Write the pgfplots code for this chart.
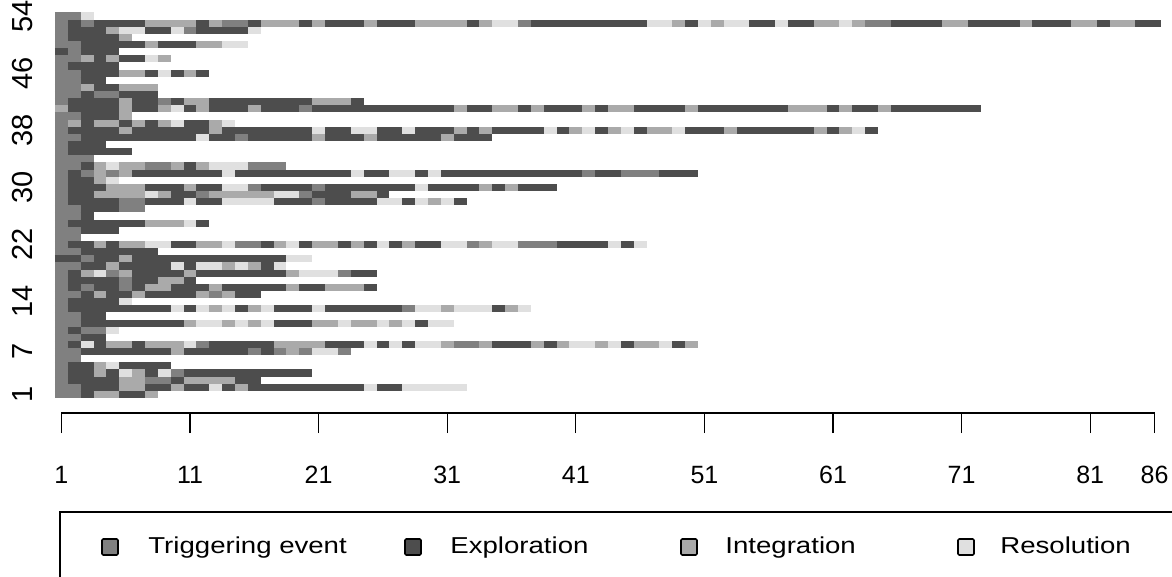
\documentclass[border=0pt]{standalone}
\usepackage{fontspec}
\setmainfont{Liberation Sans}
\usepackage{graphicx}
\usepackage{pgfplots}
\usepackage{pgfplotstable}
\pgfplotsset{compat=1.18}
\definecolor{cT}{RGB}{128,128,128}
\definecolor{cE}{RGB}{77,77,77}
\definecolor{cI}{RGB}{170,170,170}
\definecolor{cR}{RGB}{224,224,224}
% r = sequence (row), s = first position, n = run length, c = state (0 Triggering, 1 Exploration, 2 Integration, 3 Resolution)
\pgfplotstableread[row sep=\\]{
r s n c\\
54 1 2 0\\ 54 3 1 3\\
53 1 1 0\\ 53 2 1 1\\ 53 3 1 0\\ 53 4 4 1\\ 53 8 4 2\\ 53 12 1 1\\ 53 13 1 2\\ 53 14 2 0\\ 53 16 1 1\\ 53 17 3 2\\ 53 20 1 1\\ 53 21 1 2\\ 53 22 3 1\\ 53 25 1 2\\ 53 26 3 1\\ 53 29 4 2\\ 53 33 1 1\\ 53 34 1 2\\ 53 35 2 3\\ 53 37 1 0\\ 53 38 9 1\\ 53 47 2 3\\ 53 49 1 2\\ 53 50 1 1\\ 53 51 1 3\\ 53 52 1 2\\ 53 53 2 3\\ 53 55 2 1\\ 53 57 1 3\\ 53 58 2 1\\ 53 60 2 2\\ 53 62 1 3\\ 53 63 1 2\\ 53 64 2 0\\ 53 66 4 1\\ 53 70 2 2\\ 53 72 4 1\\ 53 76 1 2\\ 53 77 3 1\\ 53 80 2 2\\ 53 82 1 1\\ 53 83 2 2\\ 53 85 2 1\\
52 1 1 0\\ 52 2 3 1\\ 52 5 1 2\\ 52 6 2 3\\ 52 8 2 1\\ 52 10 1 3\\ 52 11 1 0\\ 52 12 4 1\\ 52 16 1 3\\
51 1 1 0\\ 51 2 4 1\\ 51 6 1 2\\
50 1 2 0\\ 50 3 5 1\\ 50 8 1 2\\ 50 9 3 1\\ 50 12 2 2\\ 50 14 2 3\\
49 1 1 1\\ 49 2 1 0\\ 49 3 3 1\\
48 1 2 0\\ 48 3 1 2\\ 48 4 1 1\\ 48 5 1 2\\ 48 6 2 1\\ 48 8 1 3\\ 48 9 1 2\\
47 1 1 0\\ 47 2 4 1\\
46 1 2 0\\ 46 3 3 1\\ 46 6 2 2\\ 46 8 1 1\\ 46 9 1 3\\ 46 10 1 1\\ 46 11 1 2\\ 46 12 1 1\\
45 1 2 0\\ 45 3 2 1\\
44 1 2 0\\ 44 3 1 2\\ 44 4 2 1\\ 44 6 3 2\\
43 1 2 0\\ 43 3 1 1\\ 43 4 2 0\\ 43 6 3 1\\
42 1 1 0\\ 42 2 4 1\\ 42 6 1 2\\ 42 7 2 1\\ 42 9 1 0\\ 42 10 1 1\\ 42 11 2 2\\ 42 13 8 1\\ 42 21 3 2\\ 42 24 1 1\\
41 1 1 2\\ 41 2 4 1\\ 41 6 1 2\\ 41 7 2 1\\ 41 9 1 2\\ 41 10 1 3\\ 41 11 1 1\\ 41 12 1 2\\ 41 13 3 1\\ 41 16 1 2\\ 41 17 3 1\\ 41 20 1 0\\ 41 21 11 1\\ 41 32 1 2\\ 41 33 2 1\\ 41 35 2 2\\ 41 37 1 1\\ 41 38 1 2\\ 41 39 3 1\\ 41 42 1 2\\ 41 43 1 1\\ 41 44 2 2\\ 41 46 4 1\\ 41 50 1 2\\ 41 51 7 1\\ 41 58 3 2\\ 41 61 1 1\\ 41 62 1 2\\ 41 63 2 1\\ 41 65 1 2\\ 41 66 7 1\\
40 1 2 0\\ 40 3 3 1\\ 40 6 1 2\\
39 1 1 0\\ 39 2 1 2\\ 39 3 1 1\\ 39 4 2 2\\ 39 6 1 1\\ 39 7 1 2\\ 39 8 1 1\\ 39 9 1 2\\ 39 10 1 3\\ 39 11 2 1\\ 39 13 1 2\\ 39 14 1 3\\
38 1 1 0\\ 38 2 4 1\\ 38 6 1 2\\ 38 7 6 1\\ 38 13 1 2\\ 38 14 7 1\\ 38 21 1 3\\ 38 22 2 1\\ 38 24 2 3\\ 38 26 2 1\\ 38 28 1 3\\ 38 29 3 1\\ 38 32 1 2\\ 38 33 1 1\\ 38 34 1 2\\ 38 35 4 1\\ 38 39 1 3\\ 38 40 1 1\\ 38 41 1 2\\ 38 42 1 3\\ 38 43 1 1\\ 38 44 1 2\\ 38 45 1 3\\ 38 46 1 1\\ 38 47 2 2\\ 38 49 1 3\\ 38 50 3 1\\ 38 53 1 2\\ 38 54 6 1\\ 38 60 1 2\\ 38 61 1 1\\ 38 62 1 2\\ 38 63 1 3\\ 38 64 1 1\\
37 1 2 0\\ 37 3 9 1\\ 37 12 1 3\\ 37 13 2 1\\ 37 15 1 0\\ 37 16 5 1\\ 37 21 1 2\\ 37 22 3 1\\ 37 25 1 2\\ 37 26 5 1\\ 37 31 1 2\\ 37 32 3 1\\
36 1 1 0\\ 36 2 3 1\\
35 1 1 0\\ 35 2 5 1\\
34 1 3 0\\
33 1 2 0\\ 33 3 1 1\\ 33 4 1 2\\ 33 5 1 3\\ 33 6 2 2\\ 33 8 2 0\\ 33 10 1 2\\ 33 11 1 1\\ 33 12 1 2\\ 33 13 3 3\\ 33 16 3 0\\
32 1 1 0\\ 32 2 1 1\\ 32 3 1 0\\ 32 4 1 2\\ 32 5 1 0\\ 32 6 1 2\\ 32 7 7 1\\ 32 14 1 3\\ 32 15 9 1\\ 32 24 1 3\\ 32 25 2 1\\ 32 27 2 3\\ 32 29 1 1\\ 32 30 1 3\\ 32 31 11 1\\ 32 42 1 0\\ 32 43 2 1\\ 32 45 3 0\\ 32 48 3 1\\
31 1 1 0\\ 31 2 2 1\\ 31 4 1 2\\ 31 5 1 3\\
30 1 1 0\\ 30 2 3 1\\ 30 5 3 2\\ 30 8 3 1\\ 30 11 1 2\\ 30 12 2 1\\ 30 14 2 3\\ 30 16 1 0\\ 30 17 4 1\\ 30 21 1 0\\ 30 22 7 1\\ 30 29 1 3\\ 30 30 4 1\\ 30 34 1 2\\ 30 35 1 1\\ 30 36 1 2\\ 30 37 3 1\\
29 1 1 0\\ 29 2 2 1\\ 29 4 4 2\\ 29 8 1 3\\ 29 9 1 2\\ 29 10 2 1\\ 29 12 1 0\\ 29 13 5 2\\ 29 18 2 3\\ 29 20 1 0\\ 29 21 3 1\\ 29 24 2 2\\ 29 26 1 1\\
28 1 1 0\\ 28 2 4 1\\ 28 6 2 0\\ 28 8 3 1\\ 28 11 1 3\\ 28 12 2 1\\ 28 14 4 3\\ 28 18 3 1\\ 28 21 1 0\\ 28 22 4 1\\ 28 26 2 3\\ 28 28 1 1\\ 28 29 1 3\\ 28 30 1 2\\ 28 31 1 3\\ 28 32 1 1\\
27 1 2 0\\ 27 3 3 1\\ 27 6 2 0\\
26 1 2 0\\ 26 3 1 1\\
25 1 1 0\\ 25 2 6 1\\ 25 8 3 2\\ 25 11 1 3\\ 25 12 1 1\\
24 1 2 0\\ 24 3 3 1\\
23 1 2 0\\
22 1 1 0\\ 22 2 2 1\\ 22 4 1 2\\ 22 5 1 1\\ 22 6 2 2\\ 22 8 2 3\\ 22 10 2 1\\ 22 12 2 2\\ 22 14 1 3\\ 22 15 2 0\\ 22 17 1 1\\ 22 18 1 2\\ 22 19 1 3\\ 22 20 1 1\\ 22 21 2 2\\ 22 23 1 1\\ 22 24 1 2\\ 22 25 1 1\\ 22 26 1 3\\ 22 27 1 1\\ 22 28 1 2\\ 22 29 2 1\\ 22 31 2 3\\ 22 33 1 0\\ 22 34 1 2\\ 22 35 2 3\\ 22 37 3 0\\ 22 40 4 1\\ 22 44 1 3\\ 22 45 1 1\\ 22 46 1 3\\
21 1 2 0\\ 21 3 6 1\\
20 1 2 1\\ 20 3 1 0\\ 20 4 2 1\\ 20 6 1 2\\ 20 7 12 1\\ 20 19 2 3\\
19 1 2 0\\ 19 3 2 1\\ 19 5 1 2\\ 19 6 4 1\\ 19 10 1 3\\ 19 11 1 1\\ 19 12 2 3\\ 19 14 1 2\\ 19 15 1 3\\ 19 16 1 2\\ 19 17 1 1\\ 19 18 1 3\\
18 1 1 0\\ 18 2 1 1\\ 18 3 1 2\\ 18 4 1 3\\ 18 5 1 0\\ 18 6 1 2\\ 18 7 4 1\\ 18 11 1 2\\ 18 12 7 1\\ 18 19 1 2\\ 18 20 3 3\\ 18 23 1 0\\ 18 24 2 1\\
17 1 1 0\\ 17 2 4 1\\ 17 6 1 0\\ 17 7 2 1\\ 17 9 2 2\\ 17 11 1 1\\
16 1 1 0\\ 16 2 1 1\\ 16 3 1 0\\ 16 4 2 1\\ 16 6 1 0\\ 16 7 1 1\\ 16 8 2 2\\ 16 10 3 1\\ 16 13 1 2\\ 16 14 5 1\\ 16 19 1 2\\ 16 20 2 1\\ 16 22 3 2\\ 16 25 1 1\\
15 1 2 0\\ 15 3 1 1\\ 15 4 1 2\\ 15 5 2 1\\ 15 7 1 2\\ 15 8 4 1\\ 15 12 1 2\\ 15 13 1 0\\ 15 14 1 2\\ 15 15 2 1\\
14 1 1 0\\ 14 2 4 1\\ 14 6 1 3\\
13 1 1 0\\ 13 2 8 1\\ 13 10 1 3\\ 13 11 1 1\\ 13 12 1 3\\ 13 13 1 2\\ 13 14 1 3\\ 13 15 1 1\\ 13 16 1 2\\ 13 17 1 3\\ 13 18 3 1\\ 13 21 1 3\\ 13 22 6 1\\ 13 28 1 0\\ 13 29 2 3\\ 13 31 1 2\\ 13 32 3 3\\ 13 35 1 1\\ 13 36 1 2\\ 13 37 1 3\\
12 1 2 0\\ 12 3 2 1\\
11 1 2 0\\ 11 3 8 1\\ 11 11 1 2\\ 11 12 2 3\\ 11 14 1 2\\ 11 15 1 3\\ 11 16 1 2\\ 11 17 1 3\\ 11 18 3 1\\ 11 21 2 2\\ 11 23 1 3\\ 11 24 2 2\\ 11 26 1 3\\ 11 27 1 2\\ 11 28 1 3\\ 11 29 1 1\\ 11 30 2 3\\
10 1 1 0\\ 10 2 1 1\\ 10 3 2 0\\ 10 5 1 3\\
9 1 2 0\\ 9 3 2 1\\
8 1 1 0\\ 8 2 1 1\\ 8 3 1 3\\ 8 4 1 1\\ 8 5 2 2\\ 8 7 1 1\\ 8 8 3 2\\ 8 11 1 3\\ 8 12 1 0\\ 8 13 5 1\\ 8 18 4 2\\ 8 22 3 1\\ 8 25 1 3\\ 8 26 1 1\\ 8 27 1 3\\ 8 28 1 1\\ 8 29 2 3\\ 8 31 1 2\\ 8 32 2 0\\ 8 34 1 2\\ 8 35 3 1\\ 8 38 1 2\\ 8 39 1 1\\ 8 40 1 2\\ 8 41 2 3\\ 8 43 1 2\\ 8 44 1 3\\ 8 45 1 1\\ 8 46 2 2\\ 8 48 1 3\\ 8 49 1 1\\ 8 50 1 2\\
7 1 2 0\\ 7 3 7 1\\ 7 10 1 2\\ 7 11 5 1\\ 7 16 1 0\\ 7 17 1 1\\ 7 18 1 0\\ 7 19 1 2\\ 7 20 1 0\\ 7 21 2 3\\ 7 23 1 0\\
6 1 2 0\\
5 1 1 0\\ 5 2 2 1\\ 5 4 1 2\\ 5 5 1 3\\ 5 6 4 1\\
4 1 1 0\\ 4 2 2 1\\ 4 4 1 2\\ 4 5 1 1\\ 4 6 1 3\\ 4 7 1 2\\ 4 8 1 1\\ 4 9 1 3\\ 4 10 1 0\\ 4 11 10 1\\
3 1 1 0\\ 3 2 4 1\\ 3 6 2 2\\ 3 8 2 0\\ 3 10 1 1\\ 3 11 4 2\\ 3 15 2 1\\
2 1 2 0\\ 2 3 3 1\\ 2 6 2 2\\ 2 8 2 1\\ 2 10 1 2\\ 2 11 2 1\\ 2 13 1 3\\ 2 14 1 1\\ 2 15 1 2\\ 2 16 9 1\\ 2 25 1 3\\ 2 26 2 1\\ 2 28 5 3\\
1 1 2 0\\ 1 3 1 1\\ 1 4 2 2\\ 1 6 2 1\\ 1 8 1 2\\
}\seqdata

\begin{document}
\begin{tikzpicture}
\begin{axis}[
  x=6.43pt, y=3.57pt,
  xmin=0.5, xmax=86.5, ymin=-1.6, ymax=54.5,
  axis line style={draw=none},
  xtick pos=left, ytick pos=left,
  xtick={1,11,21,31,41,51,61,71,81,86},
  ytick={1,7,14,22,30,38,46,54},
  xtick align=outside, ytick align=inside,
  major tick length=10pt,
  xtick style={black, line width=0.6pt},
  ytick style={draw=none},
  /pgf/number format/assume math mode=true,
  xticklabel style={font=\fontsize{12.5}{14}\selectfont},
  yticklabel style={font=\fontsize{14.5}{16}\selectfont, rotate=90, anchor=south},
  xticklabel shift=13pt, yticklabel shift=7.5pt,
  clip=false,
]
\addplot[draw=cT, line width=3.57pt, quiver={u=\thisrow{n}, v=0},
  restrict expr to domain={\thisrow{c}}{0:0}] table[x expr=\thisrow{s}-0.5, y=r] {\seqdata};
\addplot[draw=cE, line width=3.57pt, quiver={u=\thisrow{n}, v=0},
  restrict expr to domain={\thisrow{c}}{1:1}] table[x expr=\thisrow{s}-0.5, y=r] {\seqdata};
\addplot[draw=cI, line width=3.57pt, quiver={u=\thisrow{n}, v=0},
  restrict expr to domain={\thisrow{c}}{2:2}] table[x expr=\thisrow{s}-0.5, y=r] {\seqdata};
\addplot[draw=cR, line width=3.57pt, quiver={u=\thisrow{n}, v=0},
  restrict expr to domain={\thisrow{c}}{3:3}] table[x expr=\thisrow{s}-0.5, y=r] {\seqdata};
\draw[line width=0.6pt] (axis cs:1,-1.6) -- (axis cs:86,-1.6);
\coordinate (tl) at (axis cs:0.5,54.5);
\end{axis}
\begin{scope}[shift={(tl)}]
  \draw[line width=1pt] (2.5pt,-249.6pt) rectangle (620pt,-330pt);
  \draw[fill=cT, line width=0.8pt, rounded corners=0.6pt] (23.5pt,-271.25pt) rectangle ++(8pt,8pt);
  \draw[fill=cE, line width=0.8pt, rounded corners=0.6pt] (175pt,-271.25pt) rectangle ++(8pt,8pt);
  \draw[fill=cI, line width=0.8pt, rounded corners=0.6pt] (313pt,-271.25pt) rectangle ++(8pt,8pt);
  \draw[fill=cR, line width=0.8pt, rounded corners=0.6pt] (451.5pt,-271.25pt) rectangle ++(8pt,8pt);
  \node[anchor=base west, inner sep=0pt, font=\fontsize{11.5}{13}\selectfont] at (46.5pt,-270.5pt) {\scalebox{1.2}[1]{Triggering event}};
  \node[anchor=base west, inner sep=0pt, font=\fontsize{11.5}{13}\selectfont] at (197.5pt,-270.5pt) {\scalebox{1.2}[1]{Exploration}};
  \node[anchor=base west, inner sep=0pt, font=\fontsize{11.5}{13}\selectfont] at (335pt,-270.5pt) {\scalebox{1.2}[1]{Integration}};
  \node[anchor=base west, inner sep=0pt, font=\fontsize{11.5}{13}\selectfont] at (472.5pt,-270.5pt) {\scalebox{1.2}[1]{Resolution}};
\end{scope}
\pgfresetboundingbox
\path[use as bounding box] ([shift={(-27.5pt,6.25pt)}]tl) rectangle ++(586pt,-288.5pt);
\end{tikzpicture}
\end{document}
